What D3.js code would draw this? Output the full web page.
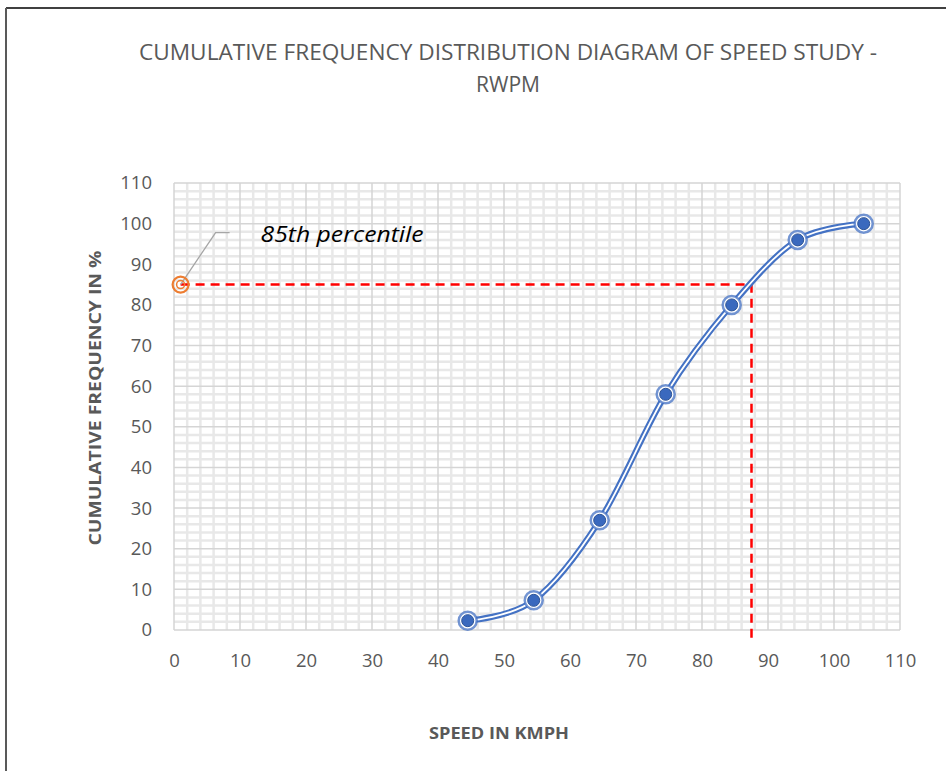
<!DOCTYPE html>
<html>
<head>
<meta charset="utf-8">
<script src="https://cdn.jsdelivr.net/npm/d3@7"></script>
<style>
  body { margin: 0; background: #fff; }
  text { font-family: "Open Sans", "Noto Sans", sans-serif; }
</style>
</head>
<body>
<svg width="946" height="771"></svg>
<script>
// speed (class mid-points) and cumulative frequency
var speeds = [44.5, 54.5, 64.5, 74.5, 84.5, 94.5, 104.5];
var cumFreq = [2.3, 7.3, 27, 58, 80, 96, 100];
var xTicks = [0, 10, 20, 30, 40, 50, 60, 70, 80, 90, 100, 110];
var yTicks = [0, 10, 20, 30, 40, 50, 60, 70, 80, 90, 100, 110];
var p85 = { speed: 87.5, freq: 85, labelX: 1 };

var svg = d3.select('svg');
var margin = { left: 174, right: 46, top: 183, bottom: 141 },
    width = 946 - margin.left - margin.right,
    height = 771 - margin.top - margin.bottom;

var x = d3.scaleLinear().domain([0, 110]).range([0, width]);
var y = d3.scaleLinear().domain([0, 110]).range([height, 0]);

// frame
svg.append('line').attr('x1', 6).attr('x2', 946).attr('y1', 8).attr('y2', 8)
  .attr('stroke', '#000').attr('stroke-width', 1.5);
svg.append('line').attr('x1', 6).attr('x2', 6).attr('y1', 8).attr('y2', 771)
  .attr('stroke', '#595959').attr('stroke-width', 2);

// title
svg.append('text').attr('x', 508).attr('y', 60).attr('text-anchor', 'middle')
  .attr('font-size', 21).attr('fill', '#595959')
  .attr('textLength', 738).attr('lengthAdjust', 'spacingAndGlyphs')
  .text('CUMULATIVE FREQUENCY DISTRIBUTION DIAGRAM OF SPEED STUDY -');
svg.append('text').attr('x', 508).attr('y', 92).attr('text-anchor', 'middle')
  .attr('font-size', 21).attr('fill', '#595959')
  .attr('textLength', 64).attr('lengthAdjust', 'spacingAndGlyphs')
  .text('RWPM');

var g = svg.append('g').attr('transform', 'translate(' + margin.left + ',' + margin.top + ')');

// minor grid every 2
var minor = d3.range(0, 111, 2).filter(function(d) { return d % 10 != 0; });
g.append('g').selectAll('line').data(minor).enter().append('line')
  .attr('x1', function(d) { return x(d); }).attr('x2', function(d) { return x(d); })
  .attr('y1', 0).attr('y2', height)
  .attr('stroke', '#e8e8e8').attr('stroke-width', 2.5);
g.append('g').selectAll('line').data(minor).enter().append('line')
  .attr('y1', function(d) { return y(d); }).attr('y2', function(d) { return y(d); })
  .attr('x1', 0).attr('x2', width)
  .attr('stroke', '#e8e8e8').attr('stroke-width', 2.5);

// major grid
g.append('g').selectAll('line').data(xTicks).enter().append('line')
  .attr('x1', function(d) { return x(d); }).attr('x2', function(d) { return x(d); })
  .attr('y1', 0).attr('y2', height)
  .attr('stroke', '#d5d5d5').attr('stroke-width', 1.5);
g.append('g').selectAll('line').data(yTicks).enter().append('line')
  .attr('y1', function(d) { return y(d); }).attr('y2', function(d) { return y(d); })
  .attr('x1', 0).attr('x2', width)
  .attr('stroke', '#d5d5d5').attr('stroke-width', 1.5);

// axes labels
var xAxis = g.append('g').attr('transform', 'translate(0,' + height + ')')
  .call(d3.axisBottom(x).tickValues(xTicks).tickSize(0).tickPadding(24));
var yAxis = g.append('g')
  .call(d3.axisLeft(y).tickValues(yTicks).tickSize(0).tickPadding(22));
[xAxis, yAxis].forEach(function(a) {
  a.select('.domain').remove();
  a.selectAll('text').attr('font-size', 18.5).attr('fill', '#595959')
    .attr('font-family', '"Open Sans", sans-serif');
});

svg.append('text').attr('x', 499).attr('y', 739).attr('text-anchor', 'middle')
  .attr('font-size', 16).attr('font-weight', 'bold').attr('fill', '#595959')
  .attr('textLength', 140).attr('lengthAdjust', 'spacingAndGlyphs')
  .text('SPEED IN KMPH');
svg.append('text').attr('transform', 'translate(101,398) rotate(-90)')
  .attr('text-anchor', 'middle')
  .attr('font-size', 16).attr('font-weight', 'bold').attr('fill', '#595959')
  .attr('textLength', 295).attr('lengthAdjust', 'spacingAndGlyphs')
  .text('CUMULATIVE FREQUENCY IN %');

// 85th percentile guide
g.append('path')
  .attr('d', 'M' + x(p85.labelX) + ',' + y(p85.freq) + 'H' + x(p85.speed) + 'V' + (y(0) + 12))
  .attr('fill', 'none').attr('stroke', '#ff0000').attr('stroke-width', 2.5)
  .attr('stroke-dasharray', '9,6');

// curve (double line)
var pts = speeds.map(function(s, i) { return [s, cumFreq[i]]; });
var line = d3.line()
  .x(function(d) { return x(d[0]); })
  .y(function(d) { return y(d[1]); })
  .curve(d3.curveCardinal.tension(0));
g.append('path').datum(pts).attr('d', line)
  .attr('fill', 'none').attr('stroke', '#4472c4').attr('stroke-width', 6);
g.append('path').datum(pts).attr('d', line)
  .attr('fill', 'none').attr('stroke', '#fff').attr('stroke-width', 1.8);

// markers
var mk = g.selectAll('.mk').data(pts).enter().append('g').attr('class', 'mk')
  .attr('transform', function(d) { return 'translate(' + x(d[0]) + ',' + y(d[1]) + ')'; });
mk.append('circle').attr('r', 9).attr('fill', '#fff')
  .attr('stroke', '#4472c4').attr('stroke-opacity', 0.75).attr('stroke-width', 2.5);
mk.append('circle').attr('r', 6).attr('fill', '#3a69be')
  .attr('stroke', '#2f5597').attr('stroke-width', 1);

// 85th percentile marker and label
var px = x(p85.labelX), py = y(p85.freq);
g.append('path')
  .attr('d', 'M' + px + ',' + py + 'L' + (px + 35) + ',' + (py - 52) + 'h14')
  .attr('fill', 'none').attr('stroke', '#a6a6a6').attr('stroke-width', 1.3);
g.append('circle').attr('cx', px).attr('cy', py).attr('r', 8)
  .attr('fill', 'none').attr('stroke', '#ed7d31').attr('stroke-width', 2.2);
g.append('circle').attr('cx', px).attr('cy', py).attr('r', 4)
  .attr('fill', 'none').attr('stroke', '#ed7d31').attr('stroke-width', 1.5);
g.append('text').attr('x', px + 80).attr('y', py - 43)
  .attr('font-size', 22).attr('font-style', 'italic').attr('fill', '#000')
  .attr('textLength', 163).attr('lengthAdjust', 'spacingAndGlyphs')
  .text('85th percentile');
</script>
</body>
</html>
